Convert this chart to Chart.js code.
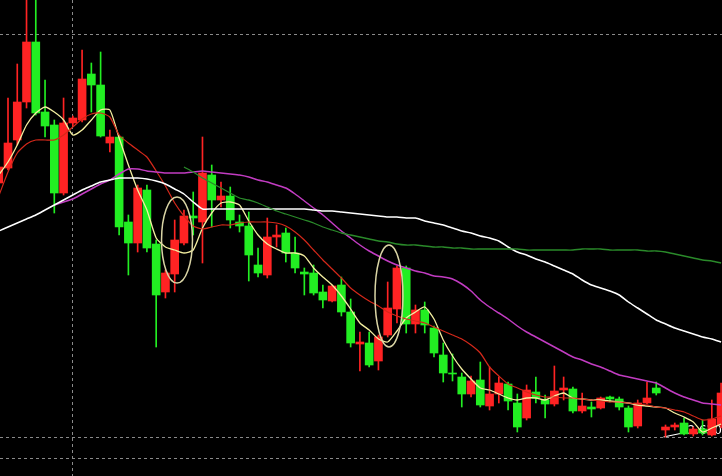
<!DOCTYPE html>
<html>
<head>
<meta charset="utf-8">
<script src="https://cdn.jsdelivr.net/npm/chart.js@4.4.1/dist/chart.umd.min.js"></script>
<style>
  html, body { margin: 0; padding: 0; background: #000; }
  #wrap { width: 722px; height: 476px; position: relative; }
</style>
</head>
<body>
<div id="wrap"><canvas id="kline"></canvas></div>
<script>
// daily candles, oldest first
const opens = [5.17,5.32,5.60,5.98,6.58,5.88,5.75,5.07,5.77,5.80,
  6.26,6.15,5.57,5.63,4.78,4.57,5.10,4.56,4.08,4.26,
  4.57,4.84,4.78,5.25,5.00,5.04,4.78,4.74,4.35,4.25,
  4.63,4.67,4.47,4.28,4.27,4.08,3.99,4.15,3.88,3.56,
  3.57,3.39,3.65,3.91,4.32,3.76,3.90,3.72,3.45,3.27,
  3.23,3.06,3.20,2.94,3.06,3.16,2.97,2.82,3.08,3.00,
  2.96,3.10,3.11,2.89,2.93,2.92,3.03,3.01,2.92,2.74,
  2.97,3.12,2.70,2.73,2.77,2.66,2.71,2.65,2.75];
const highs = [5.50,6.02,6.36,7.05,7.05,6.20,5.80,6.02,5.84,6.50,
  6.37,6.48,5.70,5.65,4.85,5.15,5.15,4.60,4.30,4.80,
  4.90,5.08,5.63,5.35,5.18,5.13,4.85,4.88,4.52,4.82,
  4.75,4.72,4.63,4.32,4.35,4.15,4.15,4.23,4.01,3.68,
  3.68,3.65,4.18,4.34,4.34,3.95,3.98,3.74,3.57,3.46,
  3.27,3.24,3.38,3.33,3.23,3.18,3.06,3.15,3.23,3.05,
  3.34,3.23,3.13,3.07,2.98,3.03,3.04,3.03,2.94,3.00,
  3.18,3.18,2.75,2.77,2.82,2.73,2.80,3.00,3.17];
const lows = [5.10,5.30,5.55,5.92,5.85,5.63,4.87,5.05,5.74,5.78,
  5.88,5.63,5.48,4.65,4.25,4.48,4.48,3.53,4.02,4.08,
  4.55,4.65,4.37,4.73,4.93,4.72,4.68,4.19,4.23,4.22,
  4.53,4.38,4.27,4.05,4.05,3.92,3.98,3.84,3.53,3.29,
  3.33,3.30,3.63,3.77,3.67,3.67,3.67,3.43,3.18,3.19,
  2.93,3.03,2.93,2.90,2.97,2.90,2.68,2.80,2.97,2.82,
  2.94,3.00,2.87,2.87,2.83,2.91,2.98,2.90,2.68,2.72,
  2.96,3.05,2.63,2.70,2.65,2.64,2.65,2.64,2.72];
const closes = [5.33,5.57,5.98,6.58,5.87,5.74,5.07,5.77,5.82,6.21,
  6.15,5.64,5.63,4.73,4.57,5.12,4.52,4.05,4.27,4.60,
  4.84,4.82,5.27,5.00,5.04,4.80,4.74,4.45,4.27,4.63,
  4.65,4.47,4.32,4.26,4.07,4.00,4.14,3.88,3.57,3.58,
  3.35,3.63,3.92,4.32,3.76,3.90,3.75,3.47,3.27,3.26,
  3.06,3.19,2.95,3.06,3.17,2.99,2.73,3.10,3.02,2.96,
  3.09,3.12,2.89,2.94,2.91,3.02,3.01,2.93,2.73,2.97,
  3.02,3.07,2.73,2.75,2.66,2.71,2.67,2.81,3.07];

// moving averages (null = not drawn yet)
const ma5 = [5.25,5.38,5.55,5.75,5.87,5.93,5.88,5.80,5.65,5.70,
  5.80,5.90,5.90,5.62,5.35,5.10,4.90,4.62,4.53,4.50,
  4.47,4.50,4.72,4.87,4.97,4.98,4.95,4.79,4.65,4.56,
  4.51,4.47,4.47,4.44,4.32,4.23,4.15,4.04,3.91,3.77,
  3.70,3.61,3.58,3.69,3.82,3.88,3.93,3.81,3.60,3.44,
  3.31,3.21,3.12,3.10,3.06,3.02,3.00,3.02,3.02,3.00,
  3.04,3.07,3.02,3.01,3.00,3.00,2.99,2.98,2.97,2.95,
  2.94,2.93,2.92,2.87,2.83,2.78,2.68,2.72,2.76];
const ma10 = [5.04,5.28,5.47,5.56,5.60,5.60,5.60,5.65,5.73,5.81,
  5.86,5.87,5.83,5.65,5.57,5.50,5.43,5.29,5.14,4.97,
  4.84,4.74,4.71,4.73,4.75,4.75,4.77,4.78,4.78,4.78,
  4.77,4.74,4.68,4.60,4.50,4.40,4.31,4.22,4.12,4.05,
  3.99,3.94,3.88,3.84,3.81,3.79,3.77,3.73,3.69,3.65,
  3.61,3.55,3.47,3.33,3.24,3.16,3.12,3.08,3.05,3.03,
  3.03,3.02,3.02,3.01,3.00,2.99,2.98,2.98,2.97,2.96,
  2.95,2.93,2.92,2.90,2.88,2.84,2.80,2.81,2.84];
const ma20 = [null,null,null,null,null,null,
  4.95,4.98,5.01,5.06,5.11,5.16,5.20,5.26,5.31,5.31,
  5.29,5.28,5.27,5.27,5.27,5.28,5.29,5.28,5.27,5.26,
  5.25,5.23,5.20,5.18,5.15,5.12,5.06,4.99,4.92,4.85,
  4.77,4.69,4.62,4.55,4.49,4.44,4.39,4.35,4.32,4.29,
  4.27,4.24,4.23,4.21,4.16,4.09,4.00,3.93,3.87,3.81,
  3.74,3.68,3.63,3.58,3.53,3.48,3.43,3.40,3.36,3.33,
  3.29,3.25,3.23,3.21,3.19,3.17,3.12,3.07,3.03,3.00,
  2.97,2.96,2.95];
const ma30 = [4.69,4.73,4.77,4.81,4.85,4.90,4.95,5.00,5.05,5.10,
  5.14,5.18,5.20,5.22,5.22,5.22,5.21,5.19,5.16,5.11,
  5.06,4.98,4.91,4.91,4.91,4.91,4.91,4.91,4.91,4.91,
  4.91,4.91,4.91,4.91,4.90,4.89,4.89,4.88,4.87,4.86,
  4.85,4.84,4.83,4.83,4.82,4.82,4.79,4.77,4.75,4.72,
  4.69,4.67,4.64,4.62,4.59,4.53,4.48,4.45,4.41,4.38,
  4.34,4.30,4.26,4.20,4.15,4.12,4.09,4.05,3.98,3.92,
  3.86,3.80,3.76,3.72,3.69,3.66,3.63,3.61,3.58];
const ma60 = [null,null,null,null,null,null,null,null,null,null,
  null,null,null,null,null,null,null,null,null,null,
  5.33,5.28,5.22,5.17,5.12,5.07,5.02,5.00,4.97,4.93,
  4.89,4.86,4.83,4.80,4.77,4.73,4.70,4.67,4.65,4.63,
  4.61,4.59,4.58,4.56,4.55,4.55,4.54,4.53,4.53,4.52,
  4.52,4.51,4.51,4.51,4.51,4.51,4.51,4.50,4.50,4.50,
  4.50,4.50,4.50,4.51,4.51,4.51,4.50,4.50,4.50,4.50,
  4.49,4.49,4.48,4.46,4.44,4.42,4.40,4.39,4.37];

// dashed guide lines
const gridPrices = [6.65, 2.63, 2.42];
const gridDays = [8];
const lowText = '2.630';

const UP = '#ff2323';
const DOWN = '#22ee22';
const candleColors = opens.map((o, i) => closes[i] >= o ? UP : DOWN);

const bodies = opens.map((o, i) => ({ x: i, y: [o, closes[i]] }));
const wicks = opens.map((o, i) => ({ x: i, y: [lows[i], highs[i]] }));
const pts = arr => arr.map((v, i) => ({ x: i, y: v }));

function maLine(data, color, width) {
  return {
    type: 'line',
    data: pts(data),
    borderColor: color,
    borderWidth: width,
    pointRadius: 0,
    tension: 0.2,
    spanGaps: false,
    order: 1
  };
}

// price label of the low, drawn under the candles
const lowMarker = {
  id: 'lowMarker',
  beforeDatasetsDraw(chart) {
    const { ctx, scales } = chart;
    let k = 0;
    lows.forEach((v, i) => { if (v < lows[k]) k = i; });
    const x = scales.x.getPixelForValue(k);
    const y = scales.y.getPixelForValue(lows[k]);
    ctx.save();
    ctx.strokeStyle = '#ffffff';
    ctx.lineWidth = 1.2;
    ctx.beginPath();
    ctx.moveTo(x - 2, y);
    ctx.lineTo(x + 22, y - 5);
    ctx.stroke();
    ctx.fillStyle = '#ffffff';
    ctx.font = '12px "DejaVu Sans", sans-serif';
    ctx.textBaseline = 'middle';
    ctx.fillText(lowText, x + 22, y - 6);
    ctx.restore();
  }
};

// hand-drawn rings around the two reversal spots
const rings = {
  id: 'rings',
  afterDatasetsDraw(chart) {
    const { ctx, scales } = chart;
    const marks = [[19.25, 4.60, 1.67, 0.43], [42.14, 4.04, 1.51, 0.51]];
    ctx.save();
    ctx.strokeStyle = '#d9d4a4';
    ctx.lineWidth = 1.5;
    marks.forEach(m => {
      const cx = scales.x.getPixelForValue(m[0]);
      const cy = scales.y.getPixelForValue(m[1]);
      const rx = scales.x.getPixelForValue(m[0] + m[2]) - cx;
      const ry = cy - scales.y.getPixelForValue(m[1] + m[3]);
      ctx.beginPath();
      ctx.ellipse(cx, cy, rx, ry, 0, 0, Math.PI * 2);
      ctx.stroke();
    });
    ctx.restore();
  }
};

const bg = {
  id: 'bg',
  beforeDraw(chart) {
    const { ctx, width, height } = chart;
    ctx.save();
    ctx.fillStyle = '#000';
    ctx.fillRect(0, 0, width, height);
    ctx.restore();
  }
};

new Chart(document.getElementById('kline'), {
  type: 'bar',
  data: {
    datasets: [
      maLine(ma60, '#2a8a2a', 1.3),
      maLine(ma30, '#ffffff', 1.5),
      maLine(ma20, '#c23cc2', 1.5),
      maLine(ma10, '#d4281a', 1.2),
      maLine(ma5, '#f4efa0', 1.3),
      {
        data: wicks,
        backgroundColor: candleColors,
        barThickness: 1,
        grouped: false,
        order: 3
      },
      {
        data: bodies,
        backgroundColor: candleColors,
        barThickness: 8,
        minBarLength: 1,
        grouped: false,
        order: 2
      }
    ]
  },
  options: {
    responsive: true,
    maintainAspectRatio: false,
    animation: false,
    layout: { padding: 0 },
    plugins: {
      legend: { display: false },
      tooltip: { enabled: false }
    },
    scales: {
      x: {
        type: 'linear',
        min: 0.136,
        max: 78.1,
        offset: false,
        afterBuildTicks: s => { s.ticks = gridDays.map(v => ({ value: v })); },
        ticks: { display: false },
        grid: { color: '#8a8a8a', lineWidth: 1, drawTicks: false, offset: false },
        border: { display: false, dash: [3, 3] }
      },
      y: {
        min: 2.24,
        max: 7.0,
        afterBuildTicks: s => { s.ticks = gridPrices.map(v => ({ value: v })); },
        ticks: { display: false },
        grid: { color: '#8a8a8a', lineWidth: 1, drawTicks: false },
        border: { display: false, dash: [3, 3] }
      }
    }
  },
  plugins: [bg, lowMarker, rings]
});
</script>
</body>
</html>
